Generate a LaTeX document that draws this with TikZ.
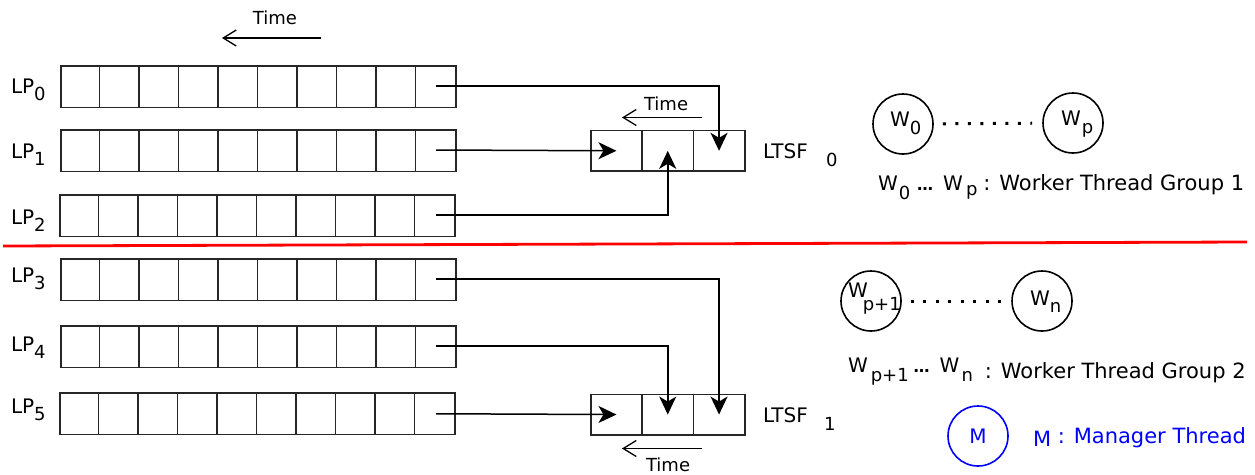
\documentclass[tikz,border=0pt]{standalone}
\usepackage{fontspec}
\setmainfont{DejaVu Sans}
\usetikzlibrary{arrows.meta,calc}

% lowered index, set a little smaller than the base text
\newcommand\idx[2][8pt]{\raisebox{-#1}{\fontsize{18}{20}\selectfont #2}}

\definecolor{mgrblue}{RGB}{0,0,255}

\tikzset{
  txt/.style={inner sep=0, outer sep=0, font=\fontsize{20}{24}\selectfont},
  captxt/.style={inner sep=0, outer sep=0, font=\fontsize{21}{25}\selectfont},
  timetxt/.style={inner sep=0, outer sep=0, font=\fontsize{18}{22}\selectfont},
  queue/.style={draw=black!85, line width=1.6pt, minimum width=395pt, minimum height=41.5pt,
                inner sep=0, anchor=north west},
  divider/.style={draw=black!85, line width=1.5pt},
  lcell/.style={draw=black!85, line width=1.6pt, minimum width=51.3pt, minimum height=40.5pt,
                inner sep=0, anchor=north west},
  feed/.style={line width=1.5pt, -{Stealth[length=18pt,width=17pt,inset=5pt]}},
  timearrow/.style={line width=1.3pt, -{Straight Barb[length=13pt,width=16pt,line width=1.3pt]}},
  thread/.style={draw, circle, line width=1.6pt, minimum size=60pt, inner sep=0},
  dotline/.style={line width=3pt, dash pattern=on 3pt off 9.5pt, shorten <=9pt, shorten >=10pt},
}

\begin{document}
\begin{tikzpicture}[x=1pt,y=-1pt]
\useasboundingbox (0,0) rectangle (1255,474);

% ---- per-LP event queues ----
\foreach \n/\x/\y/\b/\s in {0/60/65/93/86, 1/60/129/158/150, 2/59/194/224/215,
                             3/60/258/282/279, 4/60/325/351/346, 5/59/392/413/413.75} {
  \node[queue] (q\n) at (\x,\y) {};
  \foreach \i in {1,...,9}
    \draw[divider] ($(q\n.north west)+(\i*39.5,0)$) -- ($(q\n.south west)+(\i*39.5,0)$);
  \node[txt, anchor=base west] (lp\n) at (11,\b) {LP\idx[7pt]{\n}};
  \coordinate (s\n) at (436,\s);
}

% ---- time direction above the LP queues ----
\coordinate (tq1) at (321,38);
\coordinate (tq0) at (222,38);
\draw[timearrow] (tq1) -- (tq0);
\node[timetxt, anchor=base] (timeq) at (275,24) {Time};

% ---- LTSF 0 ----
\node[lcell] (a0) at (590,129.75) {};
\node[lcell] (b0) at (641.3,129.75) {};
\node[lcell] (c0) at (692.6,129.75) {};
\node[txt, anchor=base west] (ltsf0) at (763,158) {LTSF\hspace{18.4pt}\idx{0}};
\coordinate (tl01) at (702,117.5);
\coordinate (tl00) at (622,117.5);
\draw[timearrow] (tl01) -- (tl00);
\node[timetxt, anchor=base west] (timel0) at (644,110) {Time};

\draw[feed] (s0) -| (c0.center);
\draw[feed] (s1) -- (a0.center);
\draw[feed] (s2) -| (b0.center);

% ---- LTSF 1 ----
\node[lcell] (a1) at (590,393.5) {};
\node[lcell] (b1) at (641.3,393.5) {};
\node[lcell] (c1) at (692.6,393.5) {};
\node[txt, anchor=base west] (ltsf1) at (763,422) {LTSF\hspace{16.4pt}\idx{1}};
\coordinate (tl11) at (702,448.5);
\coordinate (tl10) at (622,448.5);
\draw[timearrow] (tl11) -- (tl10);
\node[timetxt, anchor=base west] (timel1) at (646,471) {Time};

\draw[feed] (s3) -| (c1.center);
\draw[feed] (s4) -| (b1.center);
\draw[feed] (s5) -- (a1.center);

% ---- partition line ----
\coordinate (sepl) at (3,246);
\coordinate (sepr) at (1247,242);
\draw[red, line width=2.8pt] (sepl) -- (sepr);

% ---- worker thread group 1 ----
\node[thread] (w0) at (903,124) {};
\node[thread] (wp) at (1073,123) {};
\draw[dotline] (w0) -- (wp);
\node[txt, anchor=base west] (w0t) at (890,126) {W\idx{0}};
\node[txt, anchor=base west] (wpt) at (1061,125) {W\hspace{1pt}\idx{p}};
\node[captxt, anchor=base west] (grp1) at (878,190)
  {{\fontsize{20}{24}\selectfont W}\hspace{1pt}\idx[9pt]{0}\hspace{7pt}{\fontsize{16}{20}\selectfont\bfseries …}\hspace{10pt}{\fontsize{20}{24}\selectfont W}\hspace{3pt}\idx[5pt]{p}\hspace{6pt}: Worker Thread Group 1};

% ---- worker thread group 2 ----
\node[thread] (wq) at (871,301) {};
\node[thread] (wn) at (1042,301) {};
\draw[dotline] (wq) -- (wn);
\node[txt, anchor=base west] (wqt) at (848,297) {W\hspace{-5pt}\idx[13pt]{p+1}};
\node[txt, anchor=base west] (wnt) at (1030,305) {W\idx[7pt]{n}};
\node[captxt, anchor=base west] (grp2) at (848,372)
  {{\fontsize{20}{24}\selectfont W}\hspace{3pt}\idx[9pt]{p+1}\hspace{5pt}{\fontsize{16}{20}\selectfont\bfseries …}\hspace{10pt}{\fontsize{20}{24}\selectfont W}\hspace{2pt}\idx[9pt]{n}\hspace{12pt}\raisebox{-6pt}{: Worker Thread Group 2}};

% ---- manager thread ----
\node[thread, draw=mgrblue, text=mgrblue, font=\fontsize{20}{24}\selectfont] (mgr) at (978,436) {M};
\node[captxt, text=mgrblue, anchor=base west] (mgrt) at (1033,443) {\raisebox{-3pt}{M} : Manager Thread};
\end{tikzpicture}
\end{document}
